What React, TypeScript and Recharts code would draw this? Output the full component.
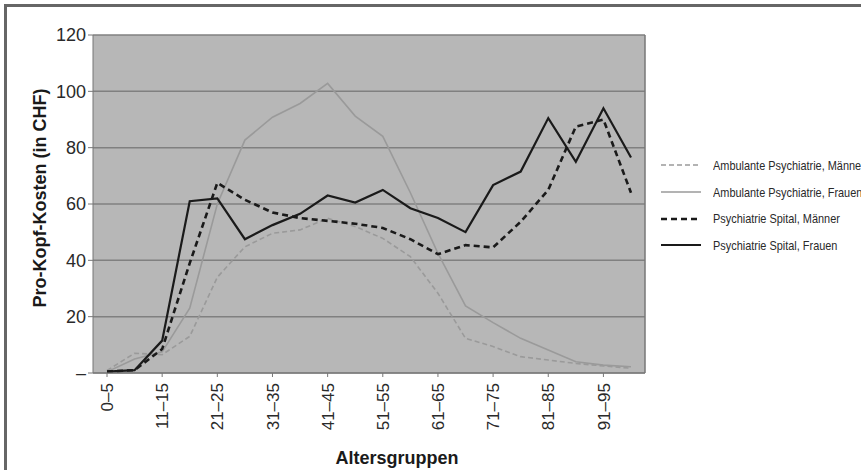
import React from 'react';
import {
  LineChart,
  Line,
  XAxis,
  YAxis,
  CartesianGrid,
  Label,
} from 'recharts';

// age groups, only every other one gets a label on the axis
const ageGroups = [
  '0–5', '6–10', '11–15', '16–20', '21–25', '26–30', '31–35', '36–40', '41–45', '46–50',
  '51–55', '56–60', '61–65', '66–70', '71–75', '76–80', '81–85', '86–90', '91–95', '96+',
];

const ambulantMaenner = [0.9, 7, 6.5, 13, 34, 44.8, 49.6, 50.8, 54.9, 52, 47.8, 41.3, 28.3, 12.3, 9.4, 5.8, 4.6, 3.4, 2.5, 1.7];
const ambulantFrauen = [0.4, 5, 7.5, 23, 60, 82.7, 90.8, 95.7, 102.8, 91.2, 84, 64, 42.5, 23.8, 17.9, 12.3, 8.2, 4, 2.8, 2.2];
const spitalMaenner = [0.5, 1, 8.5, 39, 67.5, 61.5, 57, 55, 54, 53, 51.5, 47.5, 42.2, 45.4, 44.6, 53.7, 65, 87.5, 90, 64];
const spitalFrauen = [0.5, 1, 11.5, 61, 62, 47.5, 52.5, 56.5, 63, 60.5, 65, 58.5, 55, 50, 66.7, 71.5, 90.5, 75, 94, 76.5];

const yTicks = [0, 20, 40, 60, 80, 100, 120];

const series = [
  { key: 'ambM', name: 'Ambulante Psychiatrie, Männer', color: '#9a9a9a', width: 1.6, dash: '5 3' },
  { key: 'ambF', name: 'Ambulante Psychiatrie, Frauen', color: '#9a9a9a', width: 1.6, dash: undefined },
  { key: 'spiM', name: 'Psychiatrie Spital, Männer', color: '#1a1a1a', width: 2.6, dash: '6 4' },
  { key: 'spiF', name: 'Psychiatrie Spital, Frauen', color: '#1a1a1a', width: 2.2, dash: undefined },
];

const data = ageGroups.map((g, i) => ({
  group: g,
  ambM: ambulantMaenner[i],
  ambF: ambulantFrauen[i],
  spiM: spitalMaenner[i],
  spiF: spitalFrauen[i],
}));

const SANS = "'Liberation Sans', Arial, Helvetica, sans-serif";

function XTick({ x, y, payload }: any) {
  return (
    <text
      x={x}
      y={y + 4}
      transform={`rotate(-90 ${x} ${y + 4})`}
      textAnchor="end"
      dy="0.36em"
      fontSize={17}
      fontFamily={SANS}
      fill="#2a2a2a"
    >
      {payload.value}
    </text>
  );
}

// legend sits outside the plot, like the original spreadsheet export
function LegendBox() {
  return (
    <div
      style={{
        position: 'absolute',
        left: 661,
        top: 152,
        width: 260,
        fontFamily: SANS,
        fontSize: 13,
        color: '#2a2a2a',
      }}
    >
      {series.map((s) => (
        <div key={s.key} style={{ display: 'flex', alignItems: 'center', height: 26.7 }}>
          <svg width={40} height={6} style={{ marginRight: 12, flex: 'none' }}>
            <line
              x1={0}
              y1={3}
              x2={40}
              y2={3}
              stroke={s.color}
              strokeWidth={s.width}
              strokeDasharray={s.dash}
            />
          </svg>
          <span
            style={{
              whiteSpace: 'nowrap',
              display: 'inline-block',
              transform: 'scaleX(0.84)',
              transformOrigin: 'left center',
            }}
          >
            {s.name}
          </span>
        </div>
      ))}
    </div>
  );
}

export default function App() {
  return (
    <div
      style={{
        position: 'absolute',
        left: 0,
        top: 0,
        width: 861,
        height: 470,
        overflow: 'hidden',
        background: '#fff',
      }}
    >
      <div
        style={{
          position: 'absolute',
          left: 4,
          top: 4,
          width: 900,
          height: 500,
          borderTop: '3px solid #666',
          borderLeft: '3px solid #666',
        }}
      />
      <LineChart
        width={861}
        height={470}
        data={data}
        margin={{ top: 35, right: 215, bottom: 0, left: 0 }}
        style={{ position: 'absolute', left: 0, top: 0 }}
      >
        <CartesianGrid vertical={false} fill="#b7b7b7" stroke="#808080" strokeWidth={1.5} />
        <XAxis
          dataKey="group"
          interval={1}
          height={97}
          padding={{ left: 14, right: 14 }}
          tick={<XTick />}
          tickSize={4}
          stroke="#777"
        >
          <Label
            content={({ viewBox }: any) => (
              <text
                x={viewBox.x + 304}
                y={viewBox.y + 91}
                textAnchor="middle"
                fontSize={18}
                fontWeight="bold"
                fontFamily={SANS}
                fill="#1a1a1a"
              >
                Altersgruppen
              </text>
            )}
          />
        </XAxis>
        <YAxis
          domain={[0, 120]}
          ticks={yTicks}
          width={93}
          tickSize={5}
          stroke="#777"
          tick={{ fontSize: 18, fontFamily: SANS, fill: '#2a2a2a' }}
          tickFormatter={(v: number) => (v === 0 ? '–' : String(v))}
        >
          <Label
            content={({ viewBox }: any) => {
              const cx = viewBox.x + 40;
              const cy = viewBox.y + viewBox.height / 2 - 6;
              return (
                <text
                  x={cx}
                  y={cy}
                  transform={`rotate(-90 ${cx} ${cy})`}
                  textAnchor="middle"
                  dy="0.36em"
                  fontSize={18}
                  fontWeight="bold"
                  fontFamily={SANS}
                  fill="#1a1a1a"
                >
                  Pro-Kopf-Kosten (in CHF)
                </text>
              );
            }}
          />
        </YAxis>
        {/* right-hand frame of the plot area */}
        <YAxis
          yAxisId="frame"
          orientation="right"
          domain={[0, 120]}
          width={1}
          tick={false}
          tickLine={false}
          stroke="#777"
          strokeWidth={1.5}
        />
        {series.map((s) => (
          <Line
            key={s.key}
            dataKey={s.key}
            name={s.name}
            stroke={s.color}
            strokeWidth={s.width}
            strokeDasharray={s.dash}
            dot={false}
            activeDot={false}
            isAnimationActive={false}
          />
        ))}
      </LineChart>
      <LegendBox />
    </div>
  );
}
